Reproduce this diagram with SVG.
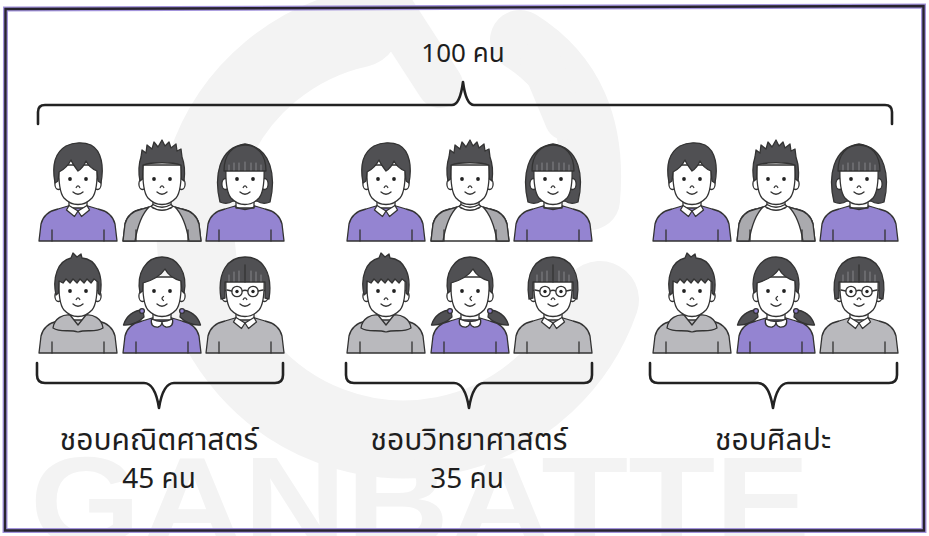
<svg xmlns="http://www.w3.org/2000/svg" xmlns:xlink="http://www.w3.org/1999/xlink" width="929" height="536" viewBox="0 0 929 536">
  <style>
    .ol { stroke: #333; stroke-width: 1.3; stroke-linejoin: round; stroke-linecap: round; }
    .hair { fill: #505053; }
    .skin { fill: #ffffff; }
    .purple { fill: #9484d1; }
    .gray { fill: #b9b9bd; }
    .sleeve { fill: #aaaaae; }
    .fringe { fill: none; stroke: #8a8a8e; stroke-width: 0.9; stroke-linecap: round; }
    .eye { fill: #222; }
    .line { fill: none; stroke: #333; stroke-width: 1.3; stroke-linecap: round; }
    .brace { fill: none; stroke: #222; stroke-width: 2.6; stroke-linecap: round; stroke-linejoin: round; }
    .lbl { font-family: "Noto Sans Thai", "Noto Sans Thai UI", "Noto Sans", "Liberation Sans", sans-serif; fill: #1e1e1e; text-anchor: middle; }
    .wm { fill: none; stroke: #f3f3f3; stroke-linecap: round; }
  </style>

  <defs>
    <!-- shared face pieces -->
    <g id="ears">
      <ellipse class="skin ol" cx="20.5" cy="43" rx="3.6" ry="5.5"/>
      <ellipse class="skin ol" cx="59.5" cy="43" rx="3.6" ry="5.5"/>
    </g>
    <path id="face" class="skin ol" d="M21 24 Q20 50 26 57 Q32 63.5 40 63.5 Q48 63.5 54 57 Q60 50 59 24 Z"/>
    <g id="features">
      <circle class="eye" cx="32" cy="38" r="1.9"/>
      <circle class="eye" cx="48" cy="38" r="1.9"/>
      <path class="line" d="M38.2 46.5 Q40 43.2 41.8 46.5"/>
      <path class="line" d="M35 51 Q40 55.5 45 51"/>
    </g>
    <path id="neck" class="skin ol" d="M31 55 L31 67 L49 67 L49 55 Z"/>
    <path id="body" class="ol" d="M1 100 L3 83 Q6 71 20 68 L30 65 L50 65 L60 68 Q74 71 77 83 L79 100 Z"/>
    <g id="arms">
      <path class="line" d="M14 89 V100 M66 89 V100"/>
    </g>
    <g id="shirtCollar">
      <path class="skin ol" d="M31 64.5 L40 70 L36.5 75.5 L28.5 69 Z"/>
      <path class="skin ol" d="M49 64.5 L40 70 L43.5 75.5 L51.5 69 Z"/>
    </g>

    <!-- boy, purple sweater -->
    <symbol id="kidA" overflow="visible">
      <use href="#body" class="purple"/>
      <use href="#arms"/>
      <use href="#neck"/>
      <use href="#shirtCollar"/>
      <use href="#ears"/>
      <use href="#face"/>
      <path class="hair ol" d="M17 42 C14 26 16 12 28 5 C36 1 46 1 53 4 C64 10 66 26 63 42 L60 40 L59 30 C54 28 50 24 48 20 C46 25 43 28 40 30 C37 26 34 22 33 19 C30 25 25 29 21 31 L20 40 Z"/>
      <use href="#features"/>
    </symbol>

    <!-- spiky boy, raglan tee -->
    <symbol id="kidB" overflow="visible">
      <path class="skin ol" d="M1 100 L3 83 Q6 71 20 68 L30 65 L50 65 L60 68 Q74 71 77 83 L79 100 Z"/>
      <path class="sleeve ol" d="M1 100 L3 83 Q6 71 20 68 L27 66 Q17 76 13 100 Z"/>
      <path class="sleeve ol" d="M79 100 L77 83 Q74 71 60 68 L53 66 Q63 76 67 100 Z"/>
      <use href="#arms"/>
      <use href="#neck"/>
      <path class="skin ol" d="M29 65.5 Q40 73 51 65.5 L49 63.5 Q40 69 31 63.5 Z"/>
      <use href="#ears"/>
      <use href="#face"/>
      <path class="hair ol" d="M18 40 C16 30 17 22 19 16 L20 9 L24 12 L25 4 L30 8 L32 1 L36 6 L40 -1 L43 5 L47 1 L49 7 L54 3 L55 10 L59 8 L60 16 C63 24 63 32 62 40 L59.5 38 L59 24 C50 21 30 21 21 24 L20.5 38 Z"/>
      <use href="#features"/>
    </symbol>

    <!-- girl with bob, purple top -->
    <symbol id="kidC" overflow="visible">
      <path class="hair ol" d="M15 61 C9 36 13 7 40 3 C67 7 71 36 65 61 Q58 64 52 60 L28 60 Q22 64 15 61 Z"/>
      <use href="#body" class="purple"/>
      <use href="#arms"/>
      <use href="#neck"/>
      <path class="line" d="M30 65.5 Q40 71.5 50 65.5"/>
      <use href="#ears"/>
      <use href="#face"/>
      <path class="hair ol" d="M19 30 C19 13 28 4 40 4 C52 4 61 13 61 30 Z"/>
      <path class="fringe" d="M24 24 V29 M29 22 V29 M34 22 V29 M40 21 V29 M46 22 V29 M51 22 V29 M56 24 V29"/>
      <use href="#features"/>
    </symbol>

    <!-- boy in grey hoodie -->
    <symbol id="kidD" overflow="visible">
      <use href="#body" class="gray"/>
      <use href="#arms"/>
      <use href="#neck"/>
      <path class="gray ol" d="M15 75 C16 65 26 61 32 62 L40 72 L48 62 C54 61 64 65 65 75 C57 80 49 76 40 79 C31 76 23 80 15 75 Z"/>
      <use href="#ears"/>
      <use href="#face"/>
      <path class="hair ol" d="M18 42 C14 24 20 8 33 5 L35 0 L39 4 L43 1 L44 5 C58 6 66 22 62 42 L60 40 L60 29 L56 26 L53 30 L49 26 L46 30 L42 26 L39 30 L35 26 L32 30 L28 26 L25 30 L21 28 L20.5 40 Z"/>
      <use href="#features"/>
    </symbol>

    <!-- girl with pigtails, purple top -->
    <symbol id="kidE" overflow="visible">
      <path class="hair ol" d="M21 57 C12 57 4 63 1.5 72 C10 72.5 17 69 22 64 Z"/>
      <path class="hair ol" d="M59 57 C68 57 76 63 78.5 72 C70 72.5 63 69 58 64 Z"/>
      <use href="#body" class="purple"/>
      <use href="#arms"/>
      <use href="#neck"/>
      <path class="skin ol" d="M29.5 66 Q28 74.5 36 74 Q40 73 40 68.5 Q40 73 44 74 Q52 74.5 50.5 66 Q40 71 29.5 66 Z"/>
      <use href="#ears"/>
      <circle class="purple ol" cx="20" cy="58" r="2.4"/>
      <circle class="purple ol" cx="60" cy="58" r="2.4"/>
      <use href="#face"/>
      <path class="hair ol" d="M18 40 C14 20 24 4 40 4 C56 4 66 20 62 40 L60 38 L59 28 C52 26 46 22 43 16 C38 24 28 28 21 30 L20.5 38 Z"/>
      <circle class="eye" cx="32" cy="38" r="1.9"/>
      <circle class="eye" cx="48" cy="38" r="1.9"/>
      <path class="line" d="M41.5 43.5 Q38.5 45.5 41.5 47.5"/>
      <path class="line" d="M35 51 Q40 55.5 45 51"/>
    </symbol>

    <!-- girl with glasses, grey sweater -->
    <symbol id="kidF" overflow="visible">
      <use href="#body" class="gray"/>
      <use href="#arms"/>
      <use href="#neck"/>
      <use href="#shirtCollar"/>
      <use href="#ears"/>
      <use href="#face"/>
      <path class="hair ol" d="M16 46 C12 20 22 4 40 4 C58 4 68 20 64 46 L60 45 L60 29 L20 29 L20 45 Z"/>
      <path class="fringe" d="M24 22 V28 M29 19 V28 M34 18 V28 M46 18 V28 M51 19 V28 M56 22 V28"/>
      <path class="line" d="M40 12 L40 29"/>
      <circle class="eye" cx="32" cy="38.5" r="1.7"/>
      <circle class="eye" cx="48" cy="38.5" r="1.7"/>
      <circle cx="32" cy="38.5" r="5.2" fill="none" stroke="#333" stroke-width="1.3"/>
      <circle cx="48" cy="38.5" r="5.2" fill="none" stroke="#333" stroke-width="1.3"/>
      <path class="line" d="M37.2 38 Q40 36.5 42.8 38 M26.8 38 L22 37 M53.2 38 L58 37"/>
      <path class="line" d="M38.2 46.5 Q40 43.2 41.8 46.5"/>
      <path class="line" d="M35 51 Q40 55.5 45 51"/>
    </symbol>

    <!-- one club: six children in two rows -->
    <g id="club">
      <use href="#kidA" x="0" y="0"/>
      <use href="#kidB" x="84" y="0"/>
      <use href="#kidC" x="167" y="0"/>
      <use href="#kidD" x="0" y="112"/>
      <use href="#kidE" x="84" y="112"/>
      <use href="#kidF" x="167" y="112"/>
    </g>
  </defs>

  <rect width="929" height="536" fill="#ffffff"/>

  <!-- faint background watermark -->
  <g id="watermark">
    <path class="wm" stroke-width="78" d="M360 28 A208 208 0 1 0 600 300"/>
    <path class="wm" stroke-width="46" d="M385 0 L440 85"/>
    <path class="wm" stroke-width="60" d="M520 40 Q600 90 590 200"/>
    <path class="wm" stroke-width="40" d="M540 60 L565 120"/>
    <text x="30" y="545" textLength="780" lengthAdjust="spacingAndGlyphs" font-family="Liberation Sans, Arial, sans-serif" font-weight="bold" font-size="126" fill="#f3f3f3">GANBATTE</text>
  </g>

  <!-- frame -->
  <path d="M5.5 9 L923.5 6 L924 530.5 L5 530.5 Z" fill="none" stroke="#a394dc" stroke-width="5"/>
  <path d="M5.5 9 L923.5 6 L924 530.5 L5 530.5 Z" fill="none" stroke="#27232e" stroke-width="2.4"/>

  <!-- whole-school total -->
  <g id="total">
    <text class="lbl" x="463" y="62" font-size="26">100 คน</text>
  </g>

  <!-- clubs -->
  <g id="club-math">
    <use href="#club" x="38" y="141"/>
    <text class="lbl" x="159" y="450" font-size="30">ชอบคณิตศาสตร์</text>
    <text class="lbl" x="159" y="488" font-size="28">45 คน</text>
  </g>
  <g id="club-science">
    <use href="#club" x="346" y="141"/>
    <text class="lbl" x="469" y="450" font-size="30">ชอบวิทยาศาสตร์</text>
    <text class="lbl" x="467" y="488" font-size="28">35 คน</text>
  </g>
  <g id="club-art">
    <use href="#club" x="652" y="141"/>
    <text class="lbl" x="773" y="450" font-size="30">ชอบศิลปะ</text>
  </g>

  <!-- braces -->
  <g id="connectors">
    <path class="brace" d="M38 124 L38 112 Q38 105 45 105 L452 105 Q460 105 463 82 Q466 105 474 105 L885 105 Q892 105 892 112 L892 124"/>
    <path class="brace" d="M37 363 L37 375 Q37 383 45 383 L144 383 Q155 383 159 408 Q163 383 174 383 L275 383 Q283 383 283 375 L283 363"/>
    <path class="brace" d="M346 363 L346 375 Q346 383 354 383 L454 383 Q465 383 469 408 Q473 383 484 383 L584 383 Q592 383 592 375 L592 363"/>
    <path class="brace" d="M650 363 L650 375 Q650 383 658 383 L758 383 Q769 383 773 408 Q777 383 788 383 L889 383 Q897 383 897 375 L897 363"/>
  </g>
</svg>
